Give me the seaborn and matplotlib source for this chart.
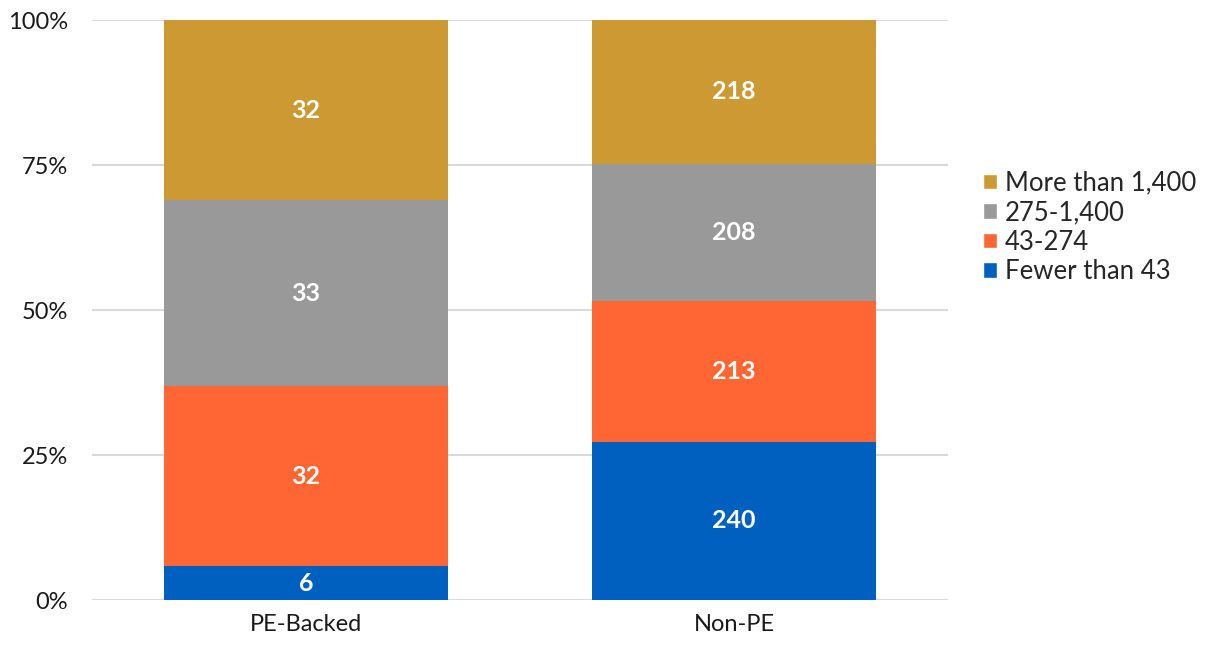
import numpy as np
import pandas as pd
import seaborn as sns
import matplotlib.pyplot as plt
from matplotlib.patches import Patch

# Data
groups = ['PE-Backed', 'Non-PE']
bands = ['Fewer than 43', '43-274', '275-1,400', 'More than 1,400']
counts = {
    'Fewer than 43': [6, 240],
    '43-274': [32, 213],
    '275-1,400': [33, 208],
    'More than 1,400': [32, 218],
}
colors = {
    'Fewer than 43': '#0060BF',
    '43-274': '#FF6633',
    '275-1,400': '#999999',
    'More than 1,400': '#CC9933',
}

sns.set_style('white')
plt.rcParams['font.family'] = ['Lato', 'DejaVu Sans']

df = pd.DataFrame(counts, index=groups)
share = df.div(df.sum(axis=1), axis=0) * 100
cum = share.cumsum(axis=1)

fig = plt.figure(figsize=(12.07, 6.46), dpi=100)
ax = fig.add_axes([0.0762, 0.0712, 0.7092, 0.8978])

# draw tallest cumulative first so each band sits on top of the one below
for band in bands[::-1]:
    sns.barplot(x=groups, y=cum[band].values, color=colors[band], width=0.665,
                saturation=1, ax=ax, zorder=3, order=groups, linewidth=0)

for i, g in enumerate(groups):
    lower = 0
    for band in bands:
        top = cum.loc[g, band]
        ax.text(i, (lower + top) / 2, str(df.loc[g, band]), ha='center', va='center',
                color='white', fontsize=18, fontweight='bold', zorder=5)
        lower = top

ax.set_xlim(-0.5, 1.5)
ax.set_ylim(0, 100)
ax.set_yticks([0, 25, 50, 75, 100])
ax.set_yticklabels(['0%', '25%', '50%', '75%', '100%'])
ax.yaxis.grid(True, color='#D9D9D9', linewidth=1.5, zorder=0)
ax.set_axisbelow(True)
for s in ax.spines.values():
    s.set_visible(False)
ax.tick_params(axis='both', length=0, labelsize=17, colors='#1a1a1a', pad=10)
ax.tick_params(axis='y', pad=17)
ax.set_xlabel('')
ax.set_ylabel('')

handles = [Patch(facecolor=colors[b], label=b) for b in bands[::-1]]
fig.legend(handles=handles, loc='center left', bbox_to_anchor=(0.806, 0.648),
           frameon=False, fontsize=18.5, handlelength=0.55, handleheight=0.55,
           handletextpad=0.3, labelspacing=0.18, borderaxespad=0)

fig.savefig('out.png', dpi=100)
